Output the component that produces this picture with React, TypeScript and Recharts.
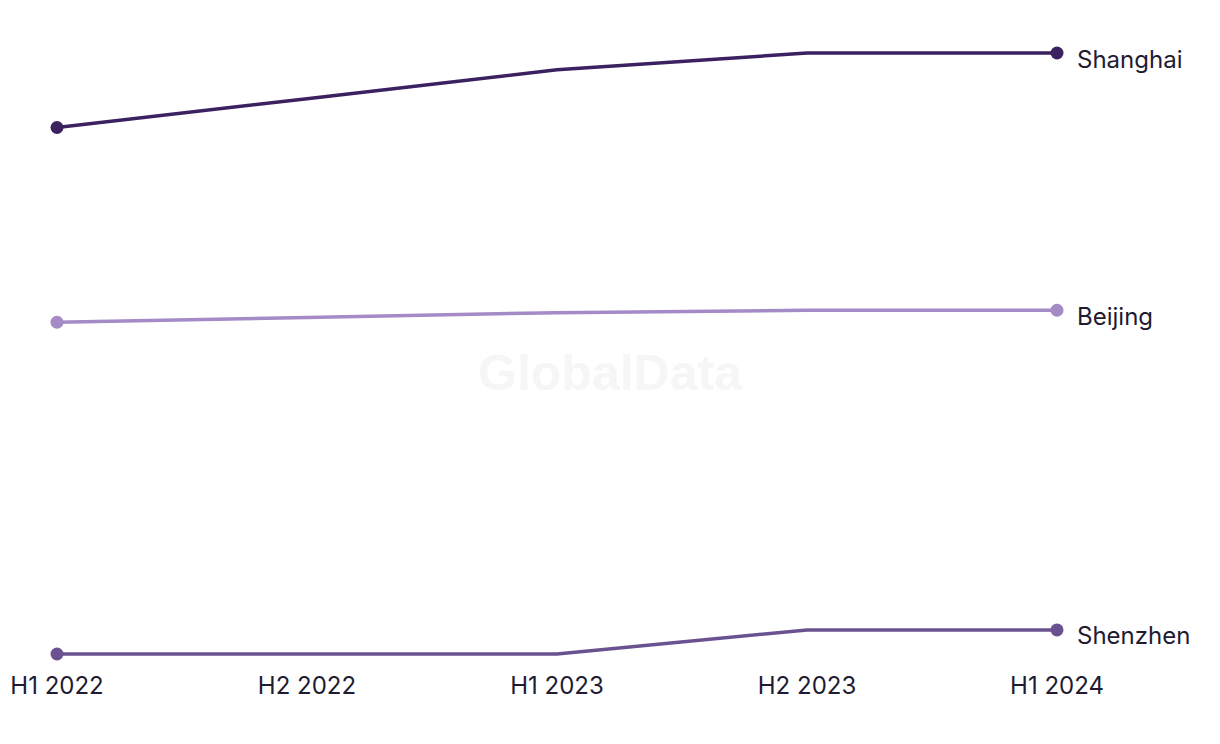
import { LineChart, Line, XAxis, YAxis } from 'recharts';

const periods = ['H1 2022', 'H2 2022', 'H1 2023', 'H2 2023', 'H1 2024'];
const shanghai = [41.9, 43.1, 44.3, 45.0, 45.0];
const beijing = [33.8, 34.0, 34.2, 34.3, 34.3];
const shenzhen = [20.0, 20.0, 20.0, 21.0, 21.0];

const seriesList = [
  { key: 'Shanghai', values: shanghai, color: '#3b2160' },
  { key: 'Beijing', values: beijing, color: '#a48ac6' },
  { key: 'Shenzhen', values: shenzhen, color: '#6a5290' },
];

const data = periods.map((p, i) => ({
  period: p,
  Shanghai: shanghai[i],
  Beijing: beijing[i],
  Shenzhen: shenzhen[i],
}));

const FONT = 'Inter, "Noto Sans", sans-serif';

// dots only at both ends, name label next to the last one
const makeDot = (name: string, color: string) => (props: any) => {
  const { cx, cy, index } = props;
  if (index !== 0 && index !== periods.length - 1) return <g key={`${name}-${index}`} />;
  return (
    <g key={`${name}-${index}`}>
      <circle cx={cx} cy={cy} r={6.5} fill={color} />
      {index === periods.length - 1 && (
        <text x={cx + 20} y={cy + 6} dominantBaseline="central" fill="#1e1b33" fontSize={24} fontFamily={FONT}>
          {name}
        </text>
      )}
    </g>
  );
};

export default function App() {
  return (
    <div style={{ position: 'absolute', left: 0, top: 0, width: 1220, height: 744, background: '#fff' }}>
      <LineChart width={1220} height={744} data={data} margin={{ top: 53, right: 163, bottom: 50, left: 57 }}>
        <text x={610} y={373} textAnchor="middle" dominantBaseline="central" fill="#f6f6f6" fontSize={50} fontWeight={700} fontFamily='"Liberation Sans", Arial, sans-serif'>
          GlobalData
        </text>
        <XAxis
          dataKey="period"
          axisLine={false}
          tickLine={false}
          tickSize={0}
          tickMargin={23}
          height={40}
          interval={0}
          tick={{ fill: '#1e1b33', fontSize: 24, fontFamily: FONT }}
        />
        <YAxis hide domain={[20, 45]} />
        {seriesList.map((s) => (
          <Line
            key={s.key}
            type="linear"
            dataKey={s.key}
            stroke={s.color}
            strokeWidth={3.5}
            dot={makeDot(s.key, s.color)}
            activeDot={false}
            isAnimationActive={false}
          />
        ))}
      </LineChart>
    </div>
  );
}
